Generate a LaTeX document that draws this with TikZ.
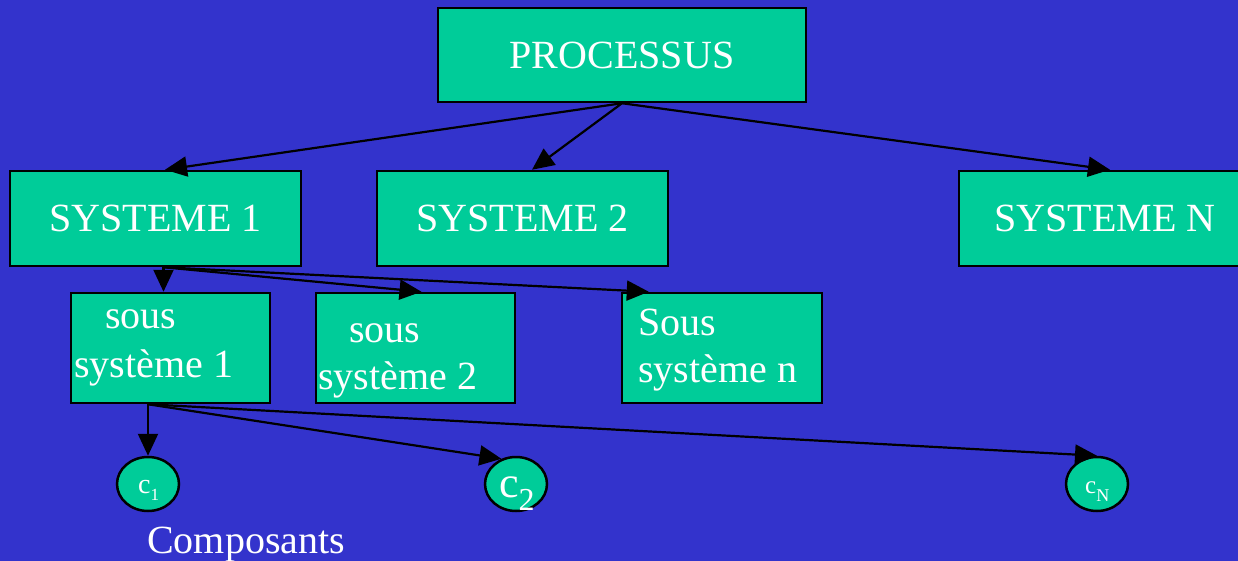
\documentclass[tikz,border=0pt]{standalone}
\usepackage{fontspec}
\setmainfont{Liberation Serif}
\usetikzlibrary{arrows.meta,shapes.geometric}
\definecolor{bg}{HTML}{3333CC}
\definecolor{boxfill}{HTML}{00CC99}
\begin{document}
\begin{tikzpicture}[x=1pt,y=-1pt,
  box/.style={draw=black,line width=2.5pt,fill=boxfill,text=white,inner sep=0pt,
    font=\fontsize{40}{44}\selectfont},
  comp/.style={ellipse,draw=black,line width=2.5pt,fill=boxfill,inner sep=0pt,
    minimum width=62pt,minimum height=54pt},
  txt/.style={text=white,inner sep=0pt,anchor=base west,font=\fontsize{40}{44}\selectfont},
  conn/.style={draw=black,line width=2.2pt,-{Triangle[length=22pt,width=20pt]}}]
\useasboundingbox (0,0) rectangle (1238,561);
\fill[bg] (0,0) rectangle (1238,561);

% level 0
\node[box,minimum width=368pt,minimum height=94pt] (proc) at (622,55) {PROCESSUS};

% level 1: systems
\node[box,minimum width=291pt,minimum height=95pt] (s1) at (155.5,218.5) {SYSTEME 1};
\node[box,minimum width=291pt,minimum height=95pt] (s2) at (522.5,218.5) {SYSTEME 2};
\node[box,minimum width=291pt,minimum height=95pt] (sN) at (1104.5,218.5) {};
\node[txt,anchor=center] (sNt) at (1105,218.5) {SYSTEME N};

% level 2: sub-systems
\node[box,minimum width=199pt,minimum height=110pt] (ss1) at (170.5,348) {};
\node[box,minimum width=199pt,minimum height=110pt] (ss2) at (415.5,348) {};
\node[box,minimum width=200pt,minimum height=110pt] (ssn) at (722,348) {};
\node[txt] (ss1a) at (105,328) {sous};
\node[txt] (ss1b) at (74,377) {système 1};
\node[txt] (ss2a) at (349,342) {sous};
\node[txt] (ss2b) at (318,389) {système 2};
\node[txt] (ssna) at (638,335) {Sous};
\node[txt] (ssnb) at (638,382) {système n};

% level 3: components
\node[comp] (c1) at (148,484) {};
\node[comp] (c2) at (516,484) {};
\node[comp] (cN) at (1097,484) {};
\node[txt,font=\fontsize{28}{28}\selectfont] (c1t) at (138,493) {c\raisebox{-7pt}{\fontsize{17}{17}\selectfont 1}};
\node[txt,font=\fontsize{44}{44}\selectfont] (c2t) at (499,497) {c\raisebox{-13pt}{\fontsize{32}{32}\selectfont 2}};
\node[txt,font=\fontsize{25}{25}\selectfont] (cNt) at (1085,493) {c\raisebox{-8pt}{\fontsize{18}{18}\selectfont N}};
\node[txt] (lab) at (147,553) {Composants};

% connectors
\coordinate (s1o) at ([xshift=8pt]s1.south);
\coordinate (ss1o) at ([xshift=-22.5pt]ss1.south);
\draw[conn] (proc.south) -- ([xshift=9.5pt]s1.north);
\draw[conn] (proc.south) -- ([xshift=9.5pt]s2.north);
\draw[conn] (proc.south) -- ([xshift=5.5pt]sN.north);
\draw[conn] (s1o) -- (s1o |- ss1.north);
\draw[conn] (s1o) -- ([xshift=6pt]ss2.north);
\draw[conn] (s1o) -- ([xshift=28pt]ssn.north west);
\draw[conn] (ss1o) -- (c1.north);
\draw[conn] (ss1o) -- (c2.120);
\draw[conn] (ss1o) -- (cN.north);
\end{tikzpicture}
\end{document}
